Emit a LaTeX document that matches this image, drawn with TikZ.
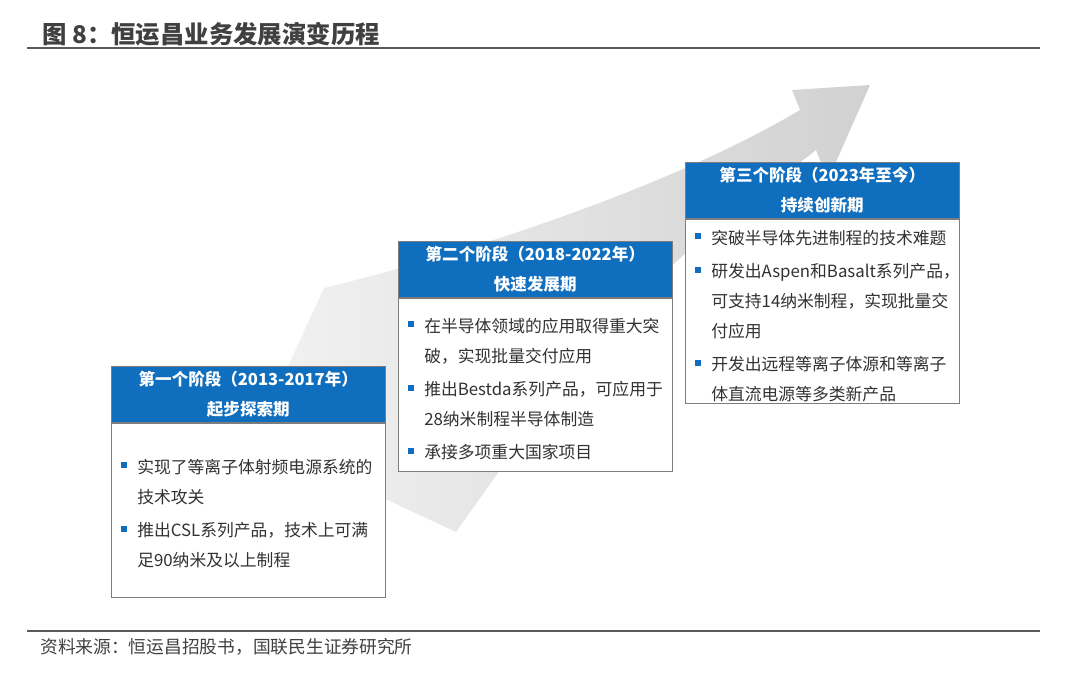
\documentclass[tikz,border=0pt]{standalone}
\usepackage{fontspec}
\setmainfont{Noto Sans CJK SC}
\usetikzlibrary{positioning}
\definecolor{stageBlue}{RGB}{16,110,190}
\definecolor{stageFrame}{RGB}{125,125,125}
\definecolor{stageText}{RGB}{50,50,50}
\definecolor{ruleGray}{RGB}{90,90,90}
\definecolor{noteGray}{RGB}{64,64,64}
\newcommand{\bul}{\raisebox{0.28em}{\textcolor{stageBlue}{\rule{4.5pt}{4.5pt}}}\hspace{7.5pt}}
\newcommand{\ind}{\hspace*{12pt}}

\begin{document}
\begin{tikzpicture}[
  x=0.75pt,y=-0.75pt,
  stagehead/.style={
    draw=stageFrame,
    fill=stageBlue,
    text=white,
    minimum width=205.5pt,
    minimum height=42pt,
    inner sep=0pt,
    align=center,
    font=\fontsize{12.4}{22.5}\selectfont\bfseries
  },
  stagebody/.style={
    draw=stageFrame,
    fill=white,
    minimum width=205.5pt,
    inner sep=0pt
  },
  stagelist/.style={
    inner sep=0pt,
    align=left,
    text=stageText,
    font=\fontsize{12.6}{22.5}\selectfont
  },
  rule/.style={ruleGray,line width=1.9pt}
]
  \useasboundingbox (0,0) rectangle (1080,689);

  \shade[left color=black!5,right color=black!18]
    (255,438) -- (324,288) .. controls (520,240) and (700,170) .. (800,110)
    -- (792,90) -- (870,85) -- (828,180) -- (816,150) -- (700,240)
    .. controls (600,330) and (540,400) .. (500,470) -- (456,532) -- cycle;

  \node[anchor=west,inner sep=0pt,text=noteGray,
    font=\fontsize{18.3}{20}\selectfont\bfseries] (title) at (42,34)
    {图 8：恒运昌业务发展演变历程};
  \draw[rule] (27,48) -- (1040,48);
  \draw[rule] (27,631) -- (1040,631);
  \node[anchor=west,inner sep=0pt,text=noteGray,
    font=\fontsize{13.3}{15}\selectfont] (source) at (40,647)
    {资料来源：恒运昌招股书，国联民生证券研究所};

  \node[stagehead,anchor=north west] (head1) at (111,366)
    {第一个阶段（2013-2017年）\\起步探索期};
  \node[stagebody,minimum height=130.5pt,below=0pt of head1] (body1) {};
  \node[stagelist,below right=27pt and 7.5pt of body1.north west] (list1)
    {\bul 实现了等离子体射频电源系统的\\
     \ind 技术攻关\\[2.5pt]
     \bul 推出CSL系列产品，技术上可满\\
     \ind 足90纳米及以上制程};

  \node[stagehead,anchor=north west] (head2) at (398,241)
    {第二个阶段（2018-2022年）\\快速发展期};
  \node[stagebody,minimum height=129.75pt,below=0pt of head2] (body2) {};
  \node[stagelist,below right=15pt and 7.5pt of body2.north west] (list2)
    {\bul 在半导体领域的应用取得重大突\\
     \ind 破，实现批量交付应用\\[2.5pt]
     \bul 推出Bestda系列产品，可应用于\\
     \ind 28纳米制程半导体制造\\[2.5pt]
     \bul 承接多项重大国家项目};

  \node[stagehead,anchor=north west] (head3) at (685,162)
    {第三个阶段（2023年至今）\\持续创新期};
  \node[stagebody,minimum height=138pt,below=0pt of head3] (body3) {};
  \node[stagelist,below right=8.25pt and 7.5pt of body3.north west] (list3)
    {\bul 突破半导体先进制程的技术难题\\[2.5pt]
     \bul 研发出Aspen和Basalt系列产品，\\
     \ind 可支持14纳米制程，实现批量交\\
     \ind 付应用\\[2.5pt]
     \bul 开发出远程等离子体源和等离子\\
     \ind 体直流电源等多类新产品};
\end{tikzpicture}
\end{document}
